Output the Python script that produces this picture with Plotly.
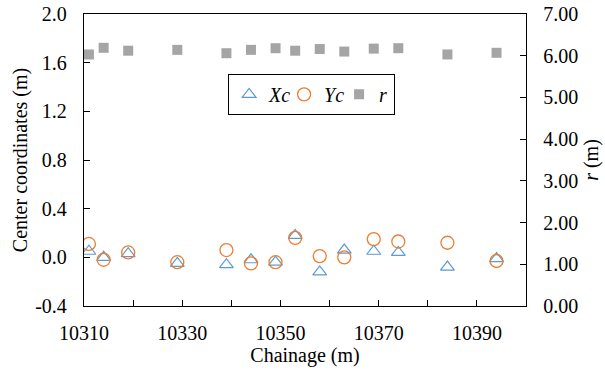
import plotly.graph_objects as go

chainage = [10311, 10314, 10319, 10329, 10339, 10344, 10349, 10353, 10358, 10363, 10369, 10374, 10384, 10394]
xc = [0.05, -0.00, 0.03, -0.05, -0.06, -0.02, -0.04, 0.18, -0.12, 0.06, 0.05, 0.04, -0.08, -0.01]
yc = [0.11, -0.02, 0.04, -0.04, 0.06, -0.05, -0.04, 0.16, 0.01, 0.00, 0.15, 0.13, 0.12, -0.03]
r = [6.03, 6.19, 6.12, 6.14, 6.06, 6.14, 6.18, 6.12, 6.16, 6.10, 6.17, 6.18, 6.03, 6.07]

x_tickvals = [10310, 10320, 10330, 10340, 10350, 10360, 10370, 10380, 10390, 10400]
x_ticktext = ["10310", "", "10330", "", "10350", "", "10370", "", "10390", ""]
y_tickvals = [-0.4, 0.0, 0.4, 0.8, 1.2, 1.6, 2.0]
y_ticktext = ["-0.4", "0.0", "0.4", "0.8", "1.2", "1.6", "2.0"]
y2_tickvals = [0, 1, 2, 3, 4, 5, 6, 7]

FONT = "Times New Roman"
BLUE = "#5B9BD5"
ORANGE = "#ED7D31"
GRAY = "#A5A5A5"

fig = go.Figure()
fig.add_trace(go.Scatter(x=chainage, y=xc, mode="markers", name="<i>Xc</i>",
                         marker=dict(symbol="triangle-up-open", size=12, color=BLUE,
                                     line=dict(width=1.2, color=BLUE))))
fig.add_trace(go.Scatter(x=chainage, y=yc, mode="markers", name="<i>Yc</i>",
                         marker=dict(symbol="circle-open", size=13, color=ORANGE,
                                     line=dict(width=1.3, color=ORANGE))))
fig.add_trace(go.Scatter(x=chainage, y=r, mode="markers", name="<i>r</i>", yaxis="y2",
                         marker=dict(symbol="square", size=10, color=GRAY,
                                     line=dict(width=0))))

axis_common = dict(showline=True, linecolor="black", linewidth=1.3, ticks="inside",
                   ticklen=6, tickcolor="black", tickwidth=1, showgrid=False, zeroline=False,
                   automargin=False, ticklabeloverflow="allow",
                   tickfont=dict(family=FONT, size=20, color="black"))

fig.update_layout(
    width=605, height=372,
    margin=dict(l=84, r=79, t=14, b=66),
    paper_bgcolor="white", plot_bgcolor="white",
    font=dict(family=FONT, size=20, color="black"),
    showlegend=True,
    legend=dict(orientation="h", x=0.326, y=0.795, xanchor="left", yanchor="top",
                bordercolor="black", borderwidth=1, bgcolor="white",
                font=dict(family=FONT, size=20, color="black"),
                itemwidth=30, entrywidth=10, tracegroupgap=0),
    xaxis=dict(range=[10310, 10400], tickvals=x_tickvals, ticktext=x_ticktext,
               mirror=True, ticklabelstandoff=9,
               title=dict(text="Chainage (m)", font=dict(family=FONT, size=20), standoff=4),
               **axis_common),
    yaxis=dict(range=[-0.4, 2.0], tickvals=y_tickvals, ticktext=y_ticktext,
               ticklabelstandoff=12,
               title=dict(text="Center coordinates (m)", font=dict(family=FONT, size=20), standoff=2),
               **axis_common),
    yaxis2=dict(range=[0, 7], tickvals=y2_tickvals, tickformat=".2f", overlaying="y", side="right",
                ticklabelstandoff=12,
                title=dict(text="<i>r</i> (m)", font=dict(family=FONT, size=20), standoff=6),
                **axis_common),
)

# remove the browser's default 8px page margin so the figure sits at the window's corner
fig.write_html("out.html", config={"displayModeBar": False},
               post_script="document.body.style.margin='0';")
